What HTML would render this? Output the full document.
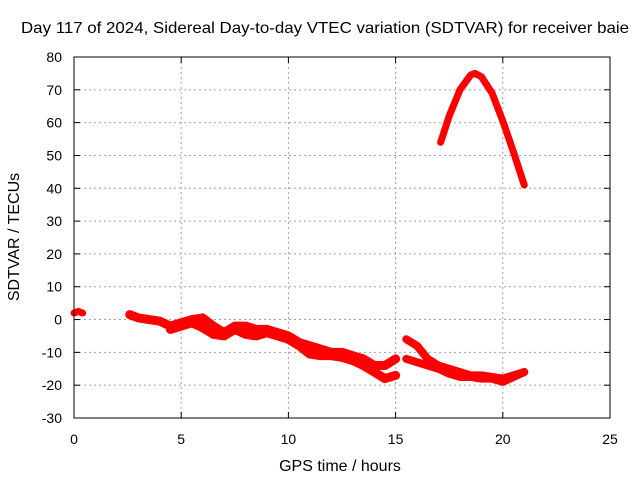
<!DOCTYPE html>
<html><head><meta charset="utf-8"><style>
body{margin:0;background:#fff}
svg{font-family:"Liberation Sans",sans-serif;font-size:14px}
</style></head><body>
<svg width="640" height="480">
<g id="grid"></g><g id="axes"></g><g id="series"></g>
<rect x="74" y="57" width="536" height="361" fill="none" stroke="#000" stroke-width="1"/>
<text x="325" y="33" text-anchor="middle" style="font-size:16px" textLength="608" lengthAdjust="spacingAndGlyphs">Day 117 of 2024, Sidereal Day-to-day VTEC variation (SDTVAR) for receiver baie</text>
<text x="340" y="471" text-anchor="middle" style="font-size:16px">GPS time / hours</text>
<text transform="translate(19,237) rotate(-90)" text-anchor="middle" style="font-size:16px">SDTVAR / TECUs</text>
</svg>
<script>
const xTicks=[0,5,10,15,20,25];
const yTicks=[-30,-20,-10,0,10,20,30,40,50,60,70,80];
const hA=[2.6,3,3.5,4,4.5,5,5.5,6,6.5,7,7.5,8,8.5,9,9.5,10,10.5,11,11.5,12,12.5,13,13.5,14,14.5,15];
const vA=[1.5,0.5,0,-0.5,-2,-1,0,0.5,-2,-4,-2,-2,-3,-3,-4,-5,-7,-8,-9,-10,-10,-11,-12,-14,-14,-12];
const hB=[4.5,5,5.5,6,6.5,7,7.5,8,8.5,9,9.5,10,10.5,11,11.5,12,12.5,13,13.5,14,14.5,15];
const vB=[-3,-2,-1,-2.5,-4.5,-5,-3,-4.5,-5,-4,-5,-6,-8,-10.5,-11,-11,-11.5,-12.5,-14,-16,-18,-17];
const hC=[15.5,16,16.5,17,17.5,18,18.5,19,19.5,20,20.5,21];
const vC=[-6,-8,-12,-14,-15,-16,-17,-17,-17.5,-18,-17,-16];
const hD=[15.5,16,16.5,17,17.5,18,18.5,19,19.5,20,20.5,21];
const vD=[-12,-13,-14,-15,-16.5,-17.5,-17.5,-18,-18,-19,-17.5,-16];
const hE=[0,0.2,0.4];
const vE=[2,2.5,2];
const hP=[17.1,17.5,18,18.5,18.7,19,19.5,20,20.5,21];
const vP=[54,62,70,74.5,75,74,69,60.5,51,41];
const NS="http://www.w3.org/2000/svg";
const X=h=>74+h*(536/25), Y=v=>418-(v+30)*(361/110);
function mk(t,a,p){const e=document.createElementNS(NS,t);for(const k in a)e.setAttribute(k,a[k]);p.appendChild(e);return e;}
const grid=document.getElementById('grid'),axes=document.getElementById('axes'),ser=document.getElementById('series');
xTicks.forEach(t=>{
 if(t>0&&t<25){const l=mk('line',{x1:X(t),x2:X(t),y1:57,y2:418,stroke:'#a0a0a0','stroke-dasharray':'2,3'},grid);
 
 }
 const tx=mk('text',{x:X(t),y:444,'text-anchor':'middle'},axes);tx.textContent=t;
 
 
 mk('line',{x1:X(t),x2:X(t),y1:418,y2:412,stroke:'#000'},axes);
 mk('line',{x1:X(t),x2:X(t),y1:57,y2:63,stroke:'#000'},axes);
});
yTicks.forEach(t=>{
 if(t>-30&&t<80){const l=mk('line',{x1:74,x2:610,y1:Y(t),y2:Y(t),stroke:'#a0a0a0','stroke-dasharray':'2,3'},grid);
 
 }
 const tx=mk('text',{x:62,y:Y(t)+5,'text-anchor':'end'},axes);tx.textContent=t;
 
 
 mk('line',{x1:74,x2:80,y1:Y(t),y2:Y(t),stroke:'#000'},axes);
 mk('line',{x1:610,x2:604,y1:Y(t),y2:Y(t),stroke:'#000'},axes);
});
function trace(h,v,w,name){
 const pts=h.map((x,i)=>X(x)+','+Y(v[i])).join(' ');
 const p=mk('polyline',{points:pts,fill:'none',stroke:'#f00','stroke-width':w,'stroke-linejoin':'round','stroke-linecap':'round'},ser);
 
 
}
trace(hA,vA,9,'series-upper-band');
trace(hB,vB,9,'series-lower-band');
trace(hC,vC,8,'series-late-upper');
trace(hD,vD,8,'series-late-lower');
trace(hE,vE,7,'series-start');
trace(hP,vP,7,'series-peak');
</script>
</body></html>
